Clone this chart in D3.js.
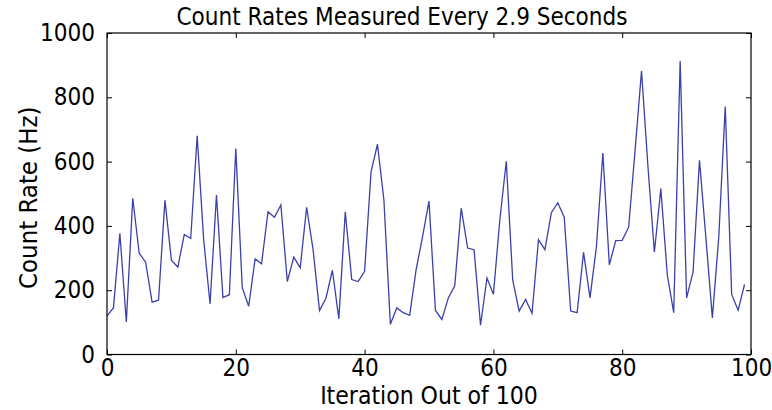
<!DOCTYPE html>
<html>
<head>
<meta charset="utf-8">
<script src="https://cdn.jsdelivr.net/npm/d3@7"></script>
<style>
  body { margin: 0; background: #fff; }
  svg text { font-family: "DejaVu Sans Condensed", "DejaVu Sans", sans-serif; font-stretch: condensed; fill: #000; }
</style>
</head>
<body>
<svg id="chart" width="772" height="410"></svg>
<script>
// count rate (Hz) at each iteration
const iterations = d3.range(0, 100);
const countRates = [
  120, 145, 377, 101, 486, 315, 287, 163, 169, 480,
  293, 272, 373, 361, 680, 360, 157, 496, 177, 186,
  641, 208, 150, 297, 282, 444, 427, 465, 227, 303,
  270, 458, 326, 137, 175, 262, 111, 444, 233, 227,
  259, 568, 654, 480, 94, 145, 130, 122, 264, 367,
  477, 137, 109, 176, 214, 455, 331, 326, 91, 238,
  187, 419, 601, 231, 135, 171, 128, 357, 326, 441,
  472, 427, 135, 130, 318, 176, 336, 627, 279, 354,
  355, 396, 635, 882, 584, 318, 516, 248, 130, 913,
  176, 256, 604, 362, 114, 367, 771, 187, 138, 218
];
const xTicks = [0, 20, 40, 60, 80, 100];
const yTicks = [0, 200, 400, 600, 800, 1000];

const title = "Count Rates Measured Every 2.9 Seconds";
const xLabel = "Iteration Out of 100";
const yLabel = "Count Rate (Hz)";

const width = 772, height = 410;
const margin = { top: 33, right: 21, bottom: 55.5, left: 107 };
const fontSize = 24;

const svg = d3.select("#chart");

const x = d3.scaleLinear()
    .domain([0, 100])
    .range([margin.left, width - margin.right]);

const y = d3.scaleLinear()
    .domain([0, 1000])
    .range([height - margin.bottom, margin.top]);

// the data line
svg.append("path")
    .datum(countRates)
    .attr("fill", "none")
    .attr("stroke", "#3c40ac")
    .attr("stroke-width", 1.3)
    .attr("d", d3.line()
        .x((d, i) => x(iterations[i]))
        .y(d => y(d)));

// ticks pointing inwards on all four sides
const tickLen = 5;
const axisStyle = g => {
    g.select(".domain").remove();
    g.selectAll("line").attr("stroke", "#000").attr("stroke-width", 1);
    g.selectAll("text").attr("font-size", fontSize).attr("font-family", null).attr("fill", "#000");
};

svg.append("g")
    .attr("transform", `translate(0,${y(0)})`)
    .call(d3.axisBottom(x).tickValues(xTicks).tickSize(-tickLen).tickPadding(4).tickFormat(d3.format("d")))
    .call(axisStyle);

svg.append("g")
    .attr("transform", `translate(0,${y(1000)})`)
    .call(d3.axisTop(x).tickValues(xTicks).tickSize(-tickLen).tickFormat(""))
    .call(axisStyle);

svg.append("g")
    .attr("transform", `translate(${x(0)},0)`)
    .call(d3.axisLeft(y).tickValues(yTicks).tickSize(-tickLen).tickPadding(12).tickFormat(d3.format("d")))
    .call(axisStyle);

svg.append("g")
    .attr("transform", `translate(${x(100)},0)`)
    .call(d3.axisRight(y).tickValues(yTicks).tickSize(-tickLen).tickFormat(""))
    .call(axisStyle);

// frame
svg.append("rect")
    .attr("x", x(0))
    .attr("y", y(1000))
    .attr("width", x(100) - x(0))
    .attr("height", y(0) - y(1000))
    .attr("fill", "none")
    .attr("stroke", "#000")
    .attr("stroke-width", 1.2);

// title and axis labels
svg.append("text")
    .attr("x", 402)
    .attr("y", y(1000) - 8)
    .attr("text-anchor", "middle")
    .attr("font-size", fontSize)
    .text(title);

svg.append("text")
    .attr("x", (x(0) + x(100)) / 2)
    .attr("y", height - 6)
    .attr("text-anchor", "middle")
    .attr("font-size", 24.5)
    .text(xLabel);

svg.append("text")
    .attr("transform", `translate(37,${(y(0) + y(1000)) / 2 + 4}) rotate(-90)`)
    .attr("text-anchor", "middle")
    .attr("font-size", 25.5)
    .text(yLabel);
</script>
</body>
</html>
